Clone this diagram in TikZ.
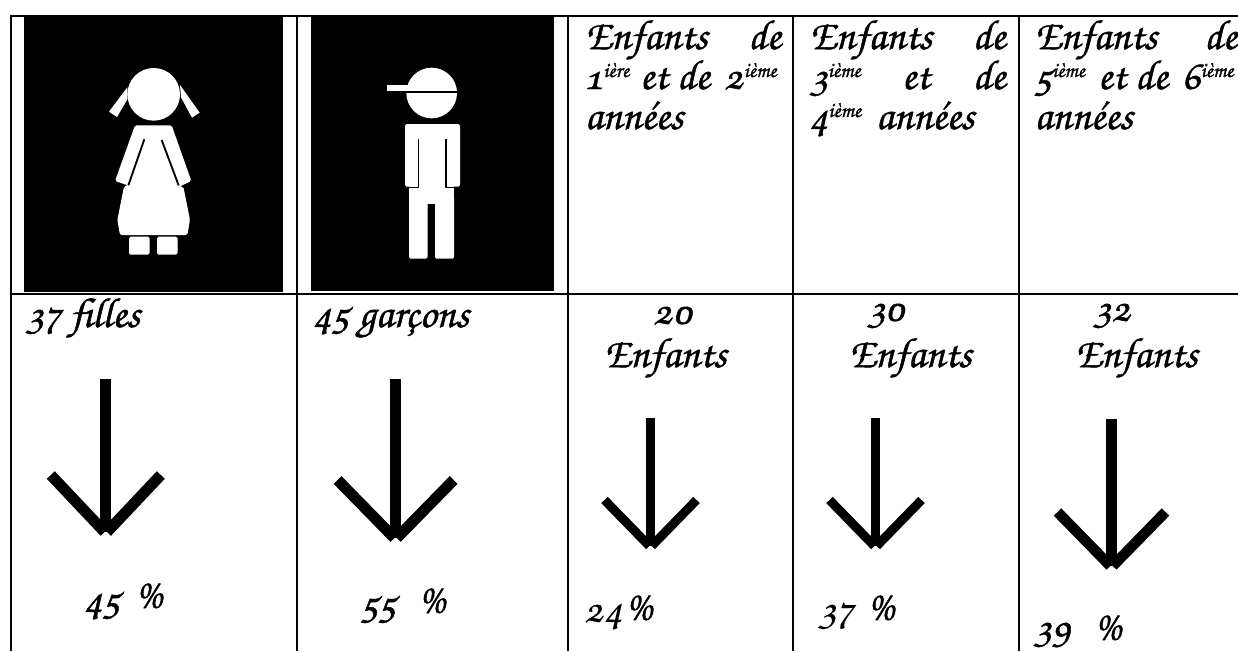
\documentclass[tikz,border=0pt]{standalone}
\usepackage{fontspec}
\setmainfont{TeX Gyre Chorus}
\newfontfamily\cor[FakeBold=1.1,Numbers=OldStyle]{TeX Gyre Chorus}
\newfontfamily\corl[FakeBold=0.2,Numbers=OldStyle]{TeX Gyre Chorus}
\newcommand{\sz}{\fontsize{31.5pt}{36pt}\selectfont}
\newcommand{\ssup}[1]{\raisebox{9pt}{\fontsize{16pt}{18pt}\selectfont #1}}
\tikzset{
  rule/.style={line width=1.4pt,black},
  txt/.style={anchor=base west,inner sep=0pt,outer sep=0pt,font=\cor\sz},
  txtl/.style={anchor=base west,inner sep=0pt,outer sep=0pt,font=\corl\sz},
  txtr/.style={anchor=base east,inner sep=0pt,outer sep=0pt,font=\cor\sz},
  arrowline/.style={black,line cap=butt},
  fig/.style={fill=white,draw=none,rounded corners=1.2pt},
}
\newcommand{\downarr}[7]{% name, x, ytop, ytip, half-span, yend, width(px)
  \coordinate (#1top) at (#2,#3);
  \coordinate (#1tip) at (#2,#4);
  \coordinate (#1l) at (#2-#5,#6);
  \coordinate (#1r) at (#2+#5,#6);
  \draw[arrowline,line width=#7*0.75pt] (#1top) -- (#1tip);
  \draw[arrowline,line width=#7*0.75pt] (#1l) -- ($(#1tip)+(-1.2,0)$);
  \draw[arrowline,line width=#7*0.75pt] (#1r) -- ($(#1tip)+(1.2,0)$);
}
\usetikzlibrary{calc}
\begin{document}
\begin{tikzpicture}[x=0.75pt,y=-0.75pt]
\useasboundingbox (0,0) rectangle (1238,651);
\fill[white] (0,0) rectangle (1238,651);
% pictures
\fill[black] (24,17) rectangle (283,292);
\fill[black] (311,17) rectangle (554,291);
% girl
\begin{scope}[x=0.25pt,y=-0.25pt]
 \fill[white] (461,283) circle (79);
 \fill[white] (382,262) -- (327,335) -- (351,351) -- (382,298) -- cycle;
 \fill[white] (540,255) -- (599,338) -- (576,353) -- (543,292) -- cycle;
 \fill[fig] (405,376) -- (515,376) -- (574,543) -- (538,560) -- (550,560) -- (570,660) -- (562,705) -- (360,705) -- (352,660) -- (372,560) -- (384,556) -- (345,543) -- cycle;
 \draw[black,line width=1.4pt] (433,418) -- (385,556);
 \draw[black,line width=1.4pt] (485,420) -- (536,556);
 \fill[fig] (387,710) rectangle (449,764);
 \fill[fig] (471,710) rectangle (533,764);
\end{scope}
% boy
\begin{scope}[xshift=217.5pt,x=0.25pt,y=-0.25pt]
 \fill[white] (425,279) circle (76);
 \fill[white] (292,256) rectangle (360,272);
 \fill[black] (345,272) rectangle (505,278);
 \fill[fig] (345,372) rectangle (510,560);
 \fill[white] (357,555) rectangle (492,600);
 \fill[fig] (357,590) rectangle (413,776);
 \fill[fig] (435,590) rectangle (492,776);
 \fill[white] (400,590) rectangle (450,613);
 \draw[black,line width=1.1pt] (385,418) -- (385,562) -- (355,562);
 \draw[black,line width=1.1pt] (468,418) -- (468,562) -- (495,562);
\end{scope}
% rules
\draw[rule] (10,15.7) -- (1238,15.7);
\draw[rule] (10,293.7) -- (1238,293.7);
\draw[rule] (11.3,15) -- (11.3,651);
\draw[rule] (297,15) -- (297,651);
\draw[rule] (568,15) -- (568,651);
\draw[rule] (793,15) -- (793,651);
\draw[rule] (1019,15) -- (1019,651);
% header text
\node[txt] (a1) at (585,49) {Enfants};
\node[txtr] (a2) at (781,49) {de};
\node[txt] (a3) at (585,89) {1\ssup{ière}};
\node[txt] (a4) at (640,89) {et de};
\node[txt] (a5) at (724,89) {2\ssup{ième}};
\node[txt] (a6) at (585,129) {années};
\node[txt] (b1) at (809.5,49) {Enfants};
\node[txtr] (b2) at (1005.5,49) {de};
\node[txt] (b3) at (809.5,89) {3\ssup{ième}};
\node[txt] (b4) at (902,89) {et};
\node[txtr] (b5) at (1005.5,89) {de};
\node[txt] (b6) at (809.5,129) {4\ssup{ième}};
\node[txt] (b7) at (876,129) {années};
\node[txt] (c1) at (1034.5,49) {Enfants};
\node[txtr] (c2) at (1237,49) {de};
\node[txt] (c3) at (1034.5,89) {5\ssup{ième}};
\node[txt] (c4) at (1098,89) {et de};
\node[txt] (c5) at (1182,89) {6\ssup{ième}};
\node[txt] (c6) at (1034.5,129) {années};
% row 2
\node[txt] (d1) at (25.5,327) {37 filles};
\node[txt] (d2) at (313,327) {45 garçons};
\node[txt] (d3) at (653,324) {20};
\node[txt] (d4) at (604,367) {Enfants};
\node[txt] (d5) at (867,321) {30};
\node[txt] (d6) at (849,367) {Enfants};
\node[txt] (d7) at (1093,321) {32};
\node[txt] (d8) at (1075,367) {Enfants};
% percents
\node[txt] (e1) at (84,612) {45};
\node[txt] (e2) at (134,608) {\%};
\node[txt] (e3) at (361,616) {55};
\node[txt] (e4) at (417,613) {\%};
\node[txtl] (e5) at (584,622) {24};
\node[txt] (e6) at (624,620) {\%};
\node[txtl] (e7) at (818,622) {37};
\node[txt] (e8) at (866,620) {\%};
\node[txt] (e9) at (1033.5,640) {39};
\node[txt] (e10) at (1093,640) {\%};
% arrows
\downarr{A}{105.8}{379}{532}{55}{475}{11}
\downarr{B}{395.6}{379}{538}{58}{480}{11}
\downarr{C}{650.5}{418}{546}{46}{500}{9}
\downarr{D}{875.5}{418}{546}{46}{500}{9}
\downarr{E}{1111.5}{419}{566}{54}{512}{10.5}
\end{tikzpicture}
\end{document}
